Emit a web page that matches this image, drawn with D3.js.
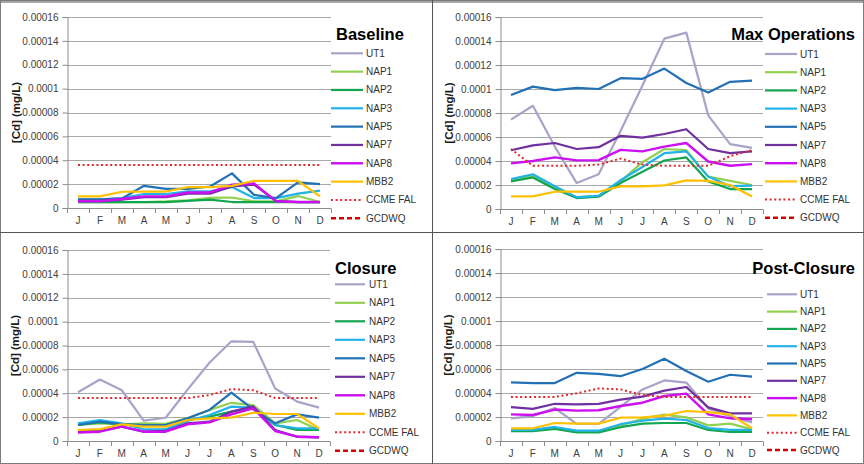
<!DOCTYPE html>
<html><head><meta charset="utf-8">
<script src="https://cdn.jsdelivr.net/npm/d3@7"></script>
<style>body{margin:0;background:#fff} svg{display:block;font-family:Arial,"Liberation Sans",sans-serif}</style>
</head><body><svg id="c" width="864" height="464"></svg>
<script>
// ---------- DATA ----------
const months = ["J","F","M","A","M","J","J","A","S","O","N","D"];
const yTickValues = [0, 0.00002, 0.00004, 0.00006, 0.00008, 0.0001, 0.00012, 0.00014, 0.00016];
const yTickLabels = ["0","0.00002","0.00004","0.00006","0.00008","0.0001","0.00012","0.00014","0.00016"];
const seriesNames = ["UT1","NAP1","NAP2","NAP3","NAP5","NAP7","NAP8","MBB2","CCME FAL","GCDWQ"];
const panelTitles = ["Baseline","Max Operations","Closure","Post-Closure"];
const yAxisTitle = "[Cd] (mg/L)";

// Baseline (mg/L)
const baseUT1  = [null,null,null,null,null,null,null,null,null,null,null,null];
const baseNAP1 = [5e-6,5e-6,5e-6,5e-6,5.5e-6,6.5e-6,8.5e-6,8.8e-6,5.5e-6,5.5e-6,1.0e-5,5e-6];
const baseNAP2 = [5e-6,5e-6,5e-6,5e-6,5e-6,6e-6,7e-6,5e-6,5e-6,5e-6,5e-6,5e-6];
const baseNAP3 = [7e-6,7e-6,8.3e-6,1.17e-5,1.17e-5,1.4e-5,1.4e-5,1.75e-5,8.3e-6,8.3e-6,1.2e-5,1.45e-5];
const baseNAP5 = [7.2e-6,7.2e-6,8e-6,1.86e-5,1.6e-5,1.6e-5,1.8e-5,2.9e-5,1.1e-5,8.3e-6,2.15e-5,2.0e-5];
const baseNAP7 = [6e-6,6e-6,7e-6,9e-6,9e-6,1.2e-5,1.2e-5,1.8e-5,1.95e-5,6e-6,5e-6,5e-6];
const baseNAP8 = [5.6e-6,5.6e-6,7.5e-6,9.7e-6,9.7e-6,1.3e-5,1.3e-5,1.95e-5,2.05e-5,5.6e-6,5e-6,5e-6];
const baseMBB2 = [9.7e-6,9.7e-6,1.36e-5,1.38e-5,1.38e-5,1.75e-5,1.75e-5,1.85e-5,2.28e-5,2.28e-5,2.28e-5,9.7e-6];
const baseCCME = [3.6e-5,3.6e-5,3.6e-5,3.6e-5,3.6e-5,3.6e-5,3.6e-5,3.6e-5,3.6e-5,3.6e-5,3.6e-5,3.6e-5];
const baseGCDWQ = [0.005,0.005,0.005,0.005,0.005,0.005,0.005,0.005,0.005,0.005,0.005,0.005];

// Max Operations (mg/L)
const maxUT1  = [7.45e-5,8.6e-5,5.2e-5,2.16e-5,2.9e-5,6.5e-5,1.03e-4,1.42e-4,1.47e-4,7.8e-5,5.4e-5,5.1e-5];
const maxNAP1 = [2.4e-5,2.8e-5,1.8e-5,1.0e-5,1.1e-5,2.3e-5,3.9e-5,5.0e-5,4.9e-5,2.7e-5,2.35e-5,2.0e-5];
const maxNAP2 = [2.3e-5,2.63e-5,1.66e-5,9.1e-6,1.02e-5,2.16e-5,3.1e-5,4.04e-5,4.3e-5,2.3e-5,1.66e-5,1.66e-5];
const maxNAP3 = [2.5e-5,2.9e-5,1.9e-5,9.7e-6,1.1e-5,2.4e-5,3.5e-5,4.65e-5,4.8e-5,2.7e-5,1.9e-5,1.95e-5];
const maxNAP5 = [9.5e-5,1.02e-4,9.9e-5,1.01e-4,1.0e-4,1.09e-4,1.085e-4,1.17e-4,1.05e-4,9.7e-5,1.06e-4,1.07e-4];
const maxNAP7 = [4.9e-5,5.3e-5,5.5e-5,5.0e-5,5.15e-5,6.1e-5,5.95e-5,6.25e-5,6.65e-5,5.0e-5,4.65e-5,4.8e-5];
const maxNAP8 = [3.8e-5,4.0e-5,4.3e-5,4.05e-5,4.07e-5,4.93e-5,4.8e-5,5.2e-5,5.5e-5,3.96e-5,3.6e-5,3.74e-5];
const maxMBB2 = [1.05e-5,1.05e-5,1.44e-5,1.44e-5,1.44e-5,1.88e-5,1.88e-5,1.97e-5,2.38e-5,2.35e-5,2.0e-5,1.05e-5];
const maxCCME = [5.0e-5,3.6e-5,3.6e-5,3.6e-5,3.7e-5,4.2e-5,3.7e-5,3.6e-5,3.6e-5,3.6e-5,4.4e-5,4.9e-5];
const maxGCDWQ = [0.005,0.005,0.005,0.005,0.005,0.005,0.005,0.005,0.005,0.005,0.005,0.005];

// Closure (mg/L)
const cloUT1  = [4.08e-5,5.15e-5,4.25e-5,1.7e-5,1.95e-5,4.3e-5,6.56e-5,8.35e-5,8.3e-5,4.4e-5,3.3e-5,2.8e-5];
const cloNAP1 = [1.34e-5,1.48e-5,1.4e-5,1.48e-5,1.44e-5,1.9e-5,2.6e-5,3.2e-5,3.0e-5,1.48e-5,1.76e-5,9.2e-6];
const cloNAP2 = [1.34e-5,1.56e-5,1.4e-5,1.34e-5,1.34e-5,1.76e-5,2.04e-5,2.46e-5,2.74e-5,1.34e-5,9.2e-6,9.2e-6];
const cloNAP3 = [1.48e-5,1.76e-5,1.48e-5,9.8e-6,9.8e-6,1.68e-5,2.18e-5,2.88e-5,2.8e-5,1.34e-5,1.06e-5,1.06e-5];
const cloNAP5 = [1.34e-5,1.62e-5,1.4e-5,1.34e-5,1.34e-5,1.9e-5,2.6e-5,4.05e-5,2.65e-5,1.48e-5,2.23e-5,1.96e-5];
const cloNAP7 = [7.8e-6,8.4e-6,1.2e-5,7.8e-6,8.4e-6,1.48e-5,1.62e-5,2.46e-5,2.9e-5,9.2e-6,3.6e-6,3.1e-6];
const cloNAP8 = [7e-6,7.8e-6,1.2e-5,7.8e-6,7.8e-6,1.4e-5,1.56e-5,2.23e-5,2.74e-5,8.4e-6,3.6e-6,3.1e-6];
const cloMBB2 = [9.2e-6,1.0e-5,1.4e-5,1.2e-5,1.2e-5,1.76e-5,1.9e-5,1.96e-5,2.37e-5,2.26e-5,2.26e-5,1.06e-5];
const cloCCME = [3.6e-5,3.6e-5,3.6e-5,3.6e-5,3.6e-5,3.6e-5,3.85e-5,4.35e-5,4.25e-5,3.6e-5,3.6e-5,3.6e-5];
const cloGCDWQ = [0.005,0.005,0.005,0.005,0.005,0.005,0.005,0.005,0.005,0.005,0.005,0.005];

// Post-Closure (mg/L)
const postUT1  = [1.89e-5,2.08e-5,2.75e-5,1.42e-5,1.42e-5,2.85e-5,4.3e-5,5.05e-5,4.87e-5,2.72e-5,2.05e-5,1.55e-5];
const postNAP1 = [9.2e-6,9.2e-6,1.1e-5,8.3e-6,8.3e-6,1.3e-5,1.86e-5,2.2e-5,1.97e-5,1.3e-5,1.45e-5,9.7e-6];
const postNAP2 = [8.3e-6,8.3e-6,1.0e-5,7.2e-6,7.2e-6,1.15e-5,1.45e-5,1.5e-5,1.5e-5,9.2e-6,7.5e-6,7.5e-6];
const postNAP3 = [9.2e-6,9.2e-6,1.17e-5,8.6e-6,8.6e-6,1.4e-5,1.69e-5,1.86e-5,1.75e-5,1.08e-5,9.2e-6,9.2e-6];
const postNAP5 = [4.89e-5,4.83e-5,4.83e-5,5.68e-5,5.6e-5,5.4e-5,6.0e-5,6.85e-5,5.83e-5,4.94e-5,5.52e-5,5.36e-5];
const postNAP7 = [2.82e-5,2.68e-5,3.1e-5,3.05e-5,3.1e-5,3.45e-5,3.7e-5,4.2e-5,4.5e-5,2.8e-5,2.3e-5,2.3e-5];
const postNAP8 = [2.22e-5,2.17e-5,2.62e-5,2.53e-5,2.56e-5,2.92e-5,3.19e-5,3.75e-5,3.95e-5,2.22e-5,1.89e-5,1.81e-5];
const postMBB2 = [1.06e-5,1.06e-5,1.5e-5,1.45e-5,1.45e-5,1.94e-5,1.97e-5,2.1e-5,2.5e-5,2.4e-5,2.22e-5,1.06e-5];
const postCCME = [3.67e-5,3.67e-5,3.67e-5,3.98e-5,4.38e-5,4.3e-5,3.83e-5,3.67e-5,3.67e-5,3.67e-5,3.67e-5,3.67e-5];
const postGCDWQ = [0.005,0.005,0.005,0.005,0.005,0.005,0.005,0.005,0.005,0.005,0.005,0.005];

const panelData = [
  [baseUT1, baseNAP1, baseNAP2, baseNAP3, baseNAP5, baseNAP7, baseNAP8, baseMBB2, baseCCME, baseGCDWQ],
  [maxUT1, maxNAP1, maxNAP2, maxNAP3, maxNAP5, maxNAP7, maxNAP8, maxMBB2, maxCCME, maxGCDWQ],
  [cloUT1, cloNAP1, cloNAP2, cloNAP3, cloNAP5, cloNAP7, cloNAP8, cloMBB2, cloCCME, cloGCDWQ],
  [postUT1, postNAP1, postNAP2, postNAP3, postNAP5, postNAP7, postNAP8, postMBB2, postCCME, postGCDWQ]
];

// ---------- STYLE / LAYOUT ----------
const seriesStyles = [
  {color:"#A9A3C8", w:2.2, dash:null},
  {color:"#92D050", w:2.2, dash:null},
  {color:"#12A650", w:2.2, dash:null},
  {color:"#22B2E8", w:2.2, dash:null},
  {color:"#2270B6", w:2.2, dash:null},
  {color:"#7030A0", w:2.2, dash:null},
  {color:"#CC10F0", w:2.4, dash:null},
  {color:"#FFC000", w:2.2, dash:null},
  {color:"#E3262B", w:2,   dash:"2,2.6"},
  {color:"#D40000", w:2.4, dash:"5,3"}
];
const panels = [
  {x0:67,  x1:331, y0:17,  y1:208, axX:19.5,  title:{x:336, y:39.5, a:"start"}, leg:{l0:331, l1:363, tx:366, y:53.3,  dy:18.33}},
  {x0:500, x1:763, y0:17,  y1:209, axX:452.5, title:{x:855, y:39.5, a:"end"},   leg:{l0:765, l1:797, tx:800, y:54,    dy:18.2}},
  {x0:67,  x1:330, y0:250, y1:441, axX:19,    title:{x:335, y:273.5, a:"start"},leg:{l0:335, l1:365, tx:369, y:284.3, dy:18.5}},
  {x0:500, x1:763, y0:249, y1:441, axX:451.5, title:{x:855, y:273.5, a:"end"},  leg:{l0:767, l1:797, tx:800, y:294.3, dy:17.3}}
];

const svg = d3.select("#c");
svg.append("rect").attr("x",0).attr("y",0).attr("width",864).attr("height",464).attr("fill","#fff");

panels.forEach((p, pi) => {
  const g = svg.append("g");
  const x = d3.scaleBand().domain(d3.range(months.length)).range([p.x0, p.x1]).paddingInner(0).paddingOuter(0);
  const y = d3.scaleLinear().domain([0, 0.00016]).range([p.y1, p.y0]);
  const cx = i => x(i) + x.bandwidth()/2;

  // gridlines
  g.append("g").selectAll("line").data(yTickValues.slice(1)).join("line")
    .attr("x1", p.x0).attr("x2", p.x1)
    .attr("y1", d => Math.round(y(d))+0.5).attr("y2", d => Math.round(y(d))+0.5)
    .attr("stroke","#A8A8A8").attr("stroke-width",1);

  // y axis
  const yAxis = d3.axisLeft(y).tickValues(yTickValues).tickSize(5).tickPadding(4)
    .tickFormat((d,i) => yTickLabels[i]);
  const ya = g.append("g").attr("transform", `translate(${Math.round(p.x0)+0.5},0)`).call(yAxis);
  ya.select(".domain").attr("stroke","#8C8C8C");
  ya.selectAll(".tick line").attr("stroke","#8C8C8C");
  ya.selectAll(".tick text").attr("font-size","10px").attr("fill","#404040").attr("font-family","Arial, 'Liberation Sans', sans-serif");

  // x axis
  const edges = d3.range(months.length+1).map(i => i < months.length ? x(i) : p.x1);
  const xg = g.append("g");
  xg.append("line").attr("x1",p.x0).attr("x2",p.x1)
    .attr("y1",Math.round(p.y1)+0.5).attr("y2",Math.round(p.y1)+0.5).attr("stroke","#8C8C8C");
  xg.selectAll("line.tk").data(edges).join("line").attr("class","tk")
    .attr("x1",d=>Math.round(d)+0.5).attr("x2",d=>Math.round(d)+0.5)
    .attr("y1",Math.round(p.y1)+0.5).attr("y2",Math.round(p.y1)+5).attr("stroke","#8C8C8C");
  xg.selectAll("text").data(months).join("text")
    .attr("x",(d,i)=>cx(i)).attr("y",p.y1+16).attr("text-anchor","middle")
    .attr("font-size","10px").attr("fill","#404040").text(d=>d);

  // y axis title
  g.append("text").attr("transform",`translate(${p.axX},${(p.y0+p.y1)/2}) rotate(-90)`)
    .attr("text-anchor","middle").attr("font-size","11.5px").attr("font-weight","bold")
    .attr("fill","#1a1a1a").text(yAxisTitle);

  // clip
  const cid = "clip"+pi;
  svg.append("clipPath").attr("id",cid).append("rect")
    .attr("x",p.x0-3).attr("y",p.y0-3).attr("width",p.x1-p.x0+6).attr("height",p.y1-p.y0+6);

  // lines
  const line = d3.line().defined(d => d != null).x((d,i)=>cx(i)).y(d=>y(d));
  const lg = g.append("g").attr("clip-path",`url(#${cid})`);
  panelData[pi].forEach((vals, si) => {
    const st = seriesStyles[si];
    lg.append("path").datum(vals).attr("d", line)
      .attr("fill","none").attr("stroke",st.color).attr("stroke-width",st.w)
      .attr("stroke-linejoin","round")
      .attr("stroke-dasharray", st.dash);
  });

  // title
  g.append("text").attr("x",p.title.x).attr("y",p.title.y).attr("text-anchor",p.title.a)
    .attr("font-size","16.5px").attr("font-weight","bold").attr("fill","#000").text(panelTitles[pi]);

  // legend
  const leg = g.append("g");
  seriesNames.forEach((nm, si) => {
    const st = seriesStyles[si];
    const yy = p.leg.y + si*p.leg.dy;
    leg.append("line").attr("x1",p.leg.l0).attr("x2",p.leg.l1).attr("y1",yy).attr("y2",yy)
      .attr("stroke",st.color).attr("stroke-width",st.w).attr("stroke-dasharray",st.dash);
    leg.append("text").attr("x",p.leg.tx).attr("y",yy+3.5).attr("font-size","10px")
      .attr("fill","#333").text(nm);
  });
});

// frame and dividers
svg.append("rect").attr("x",0).attr("y",0).attr("width",864).attr("height",3).attr("fill","#A6A6A6");
svg.append("rect").attr("x",0.5).attr("y",0.5).attr("width",863).attr("height",463)
  .attr("fill","none").attr("stroke","#7a7a7a");
svg.append("line").attr("x1",432.5).attr("x2",432.5).attr("y1",0).attr("y2",464).attr("stroke","#555");
svg.append("line").attr("x1",0).attr("x2",864).attr("y1",232.5).attr("y2",232.5).attr("stroke","#555");
</script></body></html>
